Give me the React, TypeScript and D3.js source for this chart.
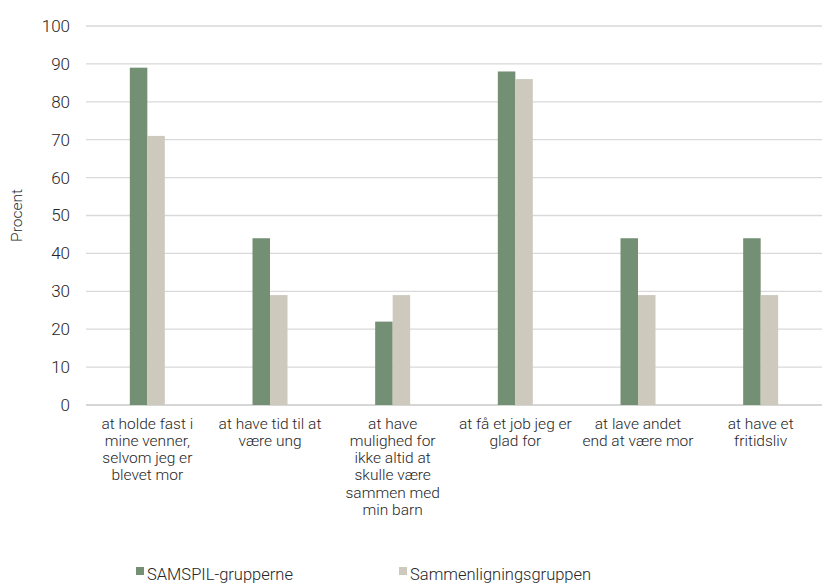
import React from "react";
import * as d3 from "d3";

const categories: string[][] = [
  ["at holde fast i", "mine venner,", "selvom jeg er", "blevet mor"],
  ["at have tid til at", "være ung"],
  ["at have", "mulighed for", "ikke altid at", "skulle være", "sammen med", "min barn"],
  ["at få et job jeg er", "glad for"],
  ["at lave andet", "end at være mor"],
  ["at have et", "fritidsliv"],
];
const samspil = [89, 44, 22, 88, 44, 44];
const sammenligning = [71, 29, 29, 86, 29, 29];
const seriesNames = ["SAMSPIL-grupperne", "Sammenligningsgruppen"];
const colors = ["#738f74", "#cdc9bd"];
const yTicks = [0, 10, 20, 30, 40, 50, 60, 70, 80, 90, 100];

export default function App() {
  const W = 824, H = 584;
  const left = 86, right = 822, top = 26, bottom = 405;
  const x = d3.scaleBand<number>().domain(d3.range(categories.length)).range([left, right]);
  const y = d3.scaleLinear().domain([0, 100]).range([bottom, top]);
  const barW = 17.5;
  const font = "Roboto, 'Noto Sans', sans-serif";
  const series = [samspil, sammenligning];
  return (
    <svg width={W} height={H} style={{ position: "absolute", left: 0, top: 0 }} fontFamily={font}>
      <rect width={W} height={H} fill="#fff" />
      {yTicks.map((t) => (
        <g key={t}>
          <line x1={left} x2={right} y1={y(t)} y2={y(t)} stroke={t === 0 ? "#c8c8c8" : "#d9d9d9"} strokeWidth={1.3} />
          <text x={70} y={y(t)} dy="0.35em" textAnchor="end" fontSize={17} fontWeight={300} fill="#262626">{t}</text>
        </g>
      ))}
      {series.map((vals, s) =>
        vals.map((v, i) => {
          const cx = x(i)! + x.bandwidth() / 2;
          return (
            <rect key={`${s}-${i}`} x={cx - barW + s * barW} y={y(v)} width={barW} height={bottom - y(v)} fill={colors[s]} />
          );
        })
      )}
      {categories.map((lines, i) => {
        const cx = x(i)! + x.bandwidth() / 2;
        return (
          <text key={i} x={cx} y={428.5} textAnchor="middle" fontSize={15.5} fontWeight={300} fill="#262626">
            {lines.map((l, j) => (
              <tspan key={j} x={cx} dy={j === 0 ? 0 : 17.3}>{l}</tspan>
            ))}
          </text>
        );
      })}
      <text transform={`translate(22,${(top + bottom) / 2}) rotate(-90)`} textAnchor="middle" fontSize={15.5} fontWeight={300} fill="#262626">Procent</text>
      {seriesNames.map((n, i) => {
        const lx = i === 0 ? 136 : 399;
        return (
          <g key={n}>
            <rect x={lx} y={567} width={8} height={8} fill={colors[i]} />
            <text x={lx + 11} y={580} fontSize={16.5} fontWeight={300} fill="#262626">{n}</text>
          </g>
        );
      })}
    </svg>
  );
}
